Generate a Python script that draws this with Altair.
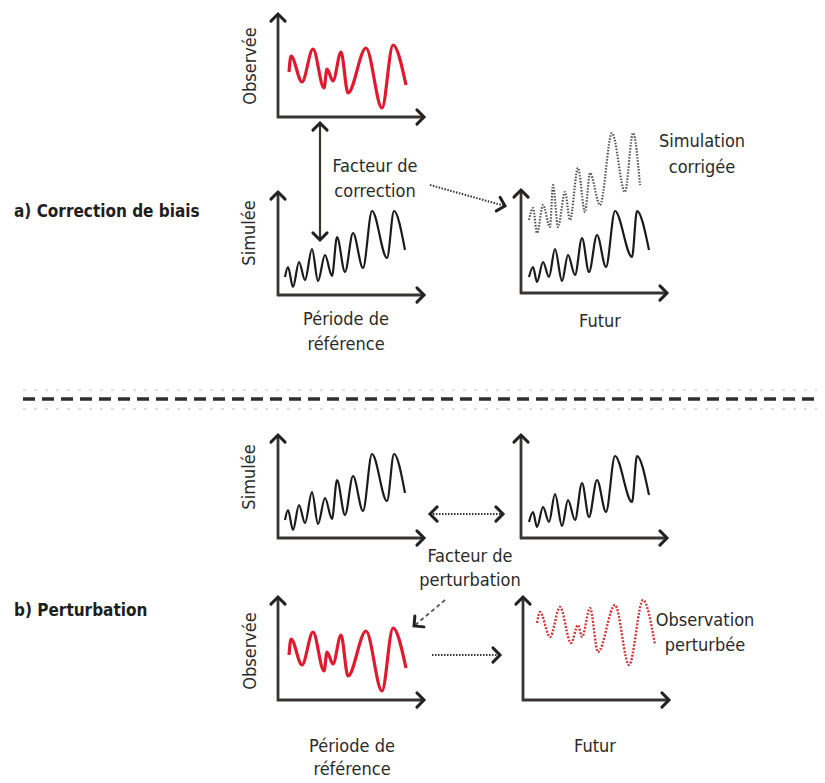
import altair as alt
import pandas as pd
import numpy as np

# ---------------- data ----------------
# each series: time step (px from y-axis) and value (px above x-axis)
obs_t = [11, 13, 24, 35, 46, 49, 55, 63, 70, 88, 104, 115, 128]
obs_v = [45, 61, 35, 68, 29, 48, 36, 65, 24, 69, 9, 72, 32]

sim_ref_t = [7, 10, 15, 21, 27, 34, 40, 47, 54, 59, 67, 75, 85, 94, 109, 116, 127]
sim_ref_v = [18, 28, 8, 33, 15, 46, 14, 40, 19, 58, 23, 62, 27, 84, 37, 84, 45]

sim_fut_t = [8, 12, 16, 22, 28, 34, 41, 47, 54, 61, 68, 76, 85, 94, 111, 116, 128]
sim_fut_v = [16, 26, 11, 31, 16, 44, 12, 38, 18, 55, 21, 58, 26, 82, 36, 82, 43]

corr_t = [8, 12, 16, 22, 29, 32, 37, 44, 49, 57, 64, 69, 79, 91, 104, 112, 119]
corr_v = [73, 85, 60, 88, 66, 108, 66, 101, 73, 125, 81, 120, 88, 160, 101, 160, 108]

pert_t = [14, 17, 27, 37, 48, 55, 59, 67, 75, 92, 106, 120, 132]
pert_v = [77, 88, 63, 93, 57, 75, 63, 92, 48, 95, 35, 100, 55]

# ---------------- layout ----------------
FONT = "Liberation Sans Narrow, Arial Narrow, DejaVu Sans Condensed, sans-serif"
AX_H, AX_W = 103, 146
AXIS_COL = "#3a3431"
INK = "#2a2a2a"
W, H = 809, 773

panels = {
    "a_obs": (278, 117), "a_sim": (278, 295), "a_fut": (521, 293),
    "b_sim": (278, 538), "b_fut": (521, 538), "b_obs": (278, 700), "b_pert": (523, 700),
}

curves = [
    ("a_obs", obs_t, obs_v, "red"),
    ("a_sim", sim_ref_t, sim_ref_v, "black"),
    ("a_fut", sim_fut_t, sim_fut_v, "black"),
    ("a_fut", corr_t, corr_v, "greydot"),
    ("b_sim", sim_ref_t, sim_ref_v, "black"),
    ("b_fut", sim_fut_t, sim_fut_v, "black"),
    ("b_obs", obs_t, obs_v, "red"),
    ("b_pert", pert_t, pert_v, "reddot"),
]

rows = []
for cid, (p, ts, vs, style) in enumerate(curves):
    ox, oy = panels[p]
    for i, (t, v) in enumerate(zip(ts, vs)):
        rows.append({"cid": cid, "i": i, "x": ox + t, "y": oy - v, "style": style})
curve_df = pd.DataFrame(rows)

# axes segments + arrowheads
seg_rows, head_rows = [], []
for p, (ox, oy) in panels.items():
    seg_rows.append({"x": ox, "y": oy + 1, "x2": ox, "y2": oy - AX_H, "kind": "axis"})
    seg_rows.append({"x": ox - 1, "y": oy, "x2": ox + AX_W, "y2": oy, "kind": "axis"})
    head_rows.append({"x": ox, "y": oy - AX_H, "angle": 0, "kind": "axis"})
    head_rows.append({"x": ox + AX_W, "y": oy, "angle": 90, "kind": "axis"})

# annotation arrows: (x1, y1, x2, y2, style, heads)
arrows = [
    (320, 123, 320, 240, "solid", "both"),
    (430, 185, 505, 206, "dot", "end"),
    (430, 514, 503, 514, "dot", "both"),
    (445, 600, 414, 626, "dash", "end"),
    (432, 655, 500, 655, "dot", "end"),
]
arrow_rows = []
for x1, y1, x2, y2, st, heads in arrows:
    arrow_rows.append({"x": x1, "y": y1, "x2": x2, "y2": y2, "kind": st})
    ang = float(np.degrees(np.arctan2(x2 - x1, -(y2 - y1)))) % 360
    head_rows.append({"x": x2, "y": y2, "angle": ang, "kind": "arrow"})
    if heads == "both":
        head_rows.append({"x": x1, "y": y1, "angle": (ang + 180) % 360, "kind": "arrow"})

seg_df = pd.DataFrame(seg_rows)
arrow_df = pd.DataFrame(arrow_rows)
head_df = pd.DataFrame(head_rows)

texts = [
    (375, 167, "Facteur de"), (375, 192, "correction"),
    (702, 142, "Simulation"), (702, 168, "corrigée"),
    (346, 320, "Période de"), (346, 345, "référence"),
    (600, 322, "Futur"),
    (470, 557, "Facteur de"), (470, 581, "perturbation"),
    (705, 621, "Observation"), (705, 646, "perturbée"),
    (352, 747, "Période de"), (352, 770, "référence"),
    (595, 747, "Futur"),
]
text_df = pd.DataFrame(texts, columns=["x", "y", "text"])
bold_df = pd.DataFrame([(14, 212, "a) Correction de biais"), (14, 611, "b) Perturbation")],
                       columns=["x", "y", "text"])
rot_df = pd.DataFrame([(251, 66, "Observée"), (250, 233, "Simulée"),
                       (250, 477, "Simulée"), (251, 651, "Observée")],
                      columns=["x", "y", "text"])
sep_df = pd.DataFrame([{"x": 23, "x2": 825, "y": 399, "y2": 399}])
ghost_df = pd.DataFrame([{"x": 23, "x2": 825, "y": 390, "y2": 390},
                         {"x": 23, "x2": 825, "y": 409, "y2": 409}])

# ---------------- encodings ----------------
XS = alt.Scale(domain=[8, 8 + W], nice=False, zero=False)
YS = alt.Scale(domain=[8, 8 + H], nice=False, zero=False, reverse=True)
X = alt.X("x:Q", scale=XS, axis=None)
Y = alt.Y("y:Q", scale=YS, axis=None)

def seg_layer(df, **mk):
    return alt.Chart(df).mark_rule(**mk).encode(x=X, y=Y, x2="x2:Q", y2="y2:Q")

def curve_layer(style, **mk):
    return alt.Chart(curve_df[curve_df["style"] == style]).mark_line(
        interpolate="monotone", **mk
    ).encode(x=X, y=Y, detail="cid:N", order="i:Q")

CHEVRON = "M-1,1L0,0L1,1"

layers = [
    seg_layer(ghost_df, color="#e0e0e0", strokeWidth=2, strokeDash=[3, 8]),
    seg_layer(sep_df, color="#2e2e2e", strokeWidth=3.5, strokeDash=[12, 7]),
    seg_layer(seg_df, color=AXIS_COL, strokeWidth=2.8),
    seg_layer(arrow_df[arrow_df["kind"] == "solid"], color=AXIS_COL, strokeWidth=2.2),
    seg_layer(arrow_df[arrow_df["kind"] == "dot"], color="#333333", strokeWidth=2, strokeDash=[1.5, 1.5]),
    seg_layer(arrow_df[arrow_df["kind"] == "dash"], color="#555555", strokeWidth=1.8, strokeDash=[4, 3]),
    alt.Chart(head_df).mark_point(
        shape=CHEVRON, filled=False, size=200, strokeWidth=3, color="#222222",
        strokeCap="round", strokeJoin="miter", opacity=1,
    ).encode(x=X, y=Y, angle=alt.Angle("angle:Q", scale=None)),
    curve_layer("red", color="#e0192d", strokeWidth=3.2),
    curve_layer("black", color="#1b1b1b", strokeWidth=2.2),
    curve_layer("greydot", color="#555555", strokeWidth=2.2, strokeDash=[1.5, 1.5]),
    curve_layer("reddot", color="#d8343a", strokeWidth=2.4, strokeDash=[2, 1.5]),
    alt.Chart(text_df).mark_text(font=FONT, fontSize=18, color=INK, align="center",
                                 baseline="middle").encode(x=X, y=Y, text="text:N"),
    alt.Chart(bold_df).mark_text(font=FONT, fontSize=17, fontWeight="bold", color="#1e1e1e",
                                 align="left", baseline="middle").encode(x=X, y=Y, text="text:N"),
    alt.Chart(rot_df).mark_text(font=FONT, fontSize=18, color=INK, align="center",
                                baseline="middle", angle=270).encode(x=X, y=Y, text="text:N"),
]

chart = alt.layer(*layers).properties(
    width=W, height=H, padding=0, autosize="none", background="white"
).configure_view(stroke=None)

chart.save("out.html", embed_options={"renderer": "svg", "actions": False})
